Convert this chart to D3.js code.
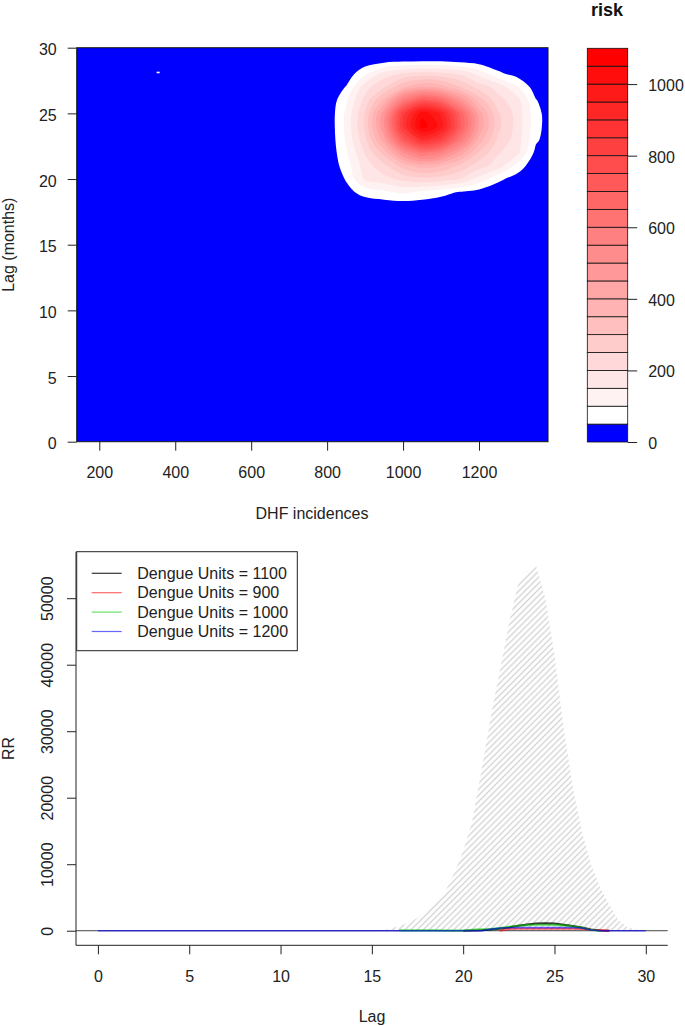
<!DOCTYPE html>
<html>
<head>
<meta charset="utf-8">
<script src="https://cdn.jsdelivr.net/npm/d3@7/dist/d3.min.js"></script>
<style>
body{margin:0;background:#fff;}
text{font-family:"Liberation Sans",Arial,sans-serif;font-size:16px;fill:#222;}
</style>
</head>
<body>
<svg id="chart" width="685" height="1026"></svg>
<script>
// 上图: risk 曲面 (DHF incidences x lag)
var riskDhf=[800,850,900,950,1000,1050,1100,1150,1200,1250,1300,1350,1400];
var riskLag=[17,18,19,20,21,22,23,24,25,26,27,28,29,30];
var riskGrid=[
    [0,7,4,3,4,3,2,1,0,0,0,0,0],
    [1,17,20,20,22,20,12,8,4,2,0,0,0],
    [2,34,68,90,110,90,70,45,28,11,4,0,0],
    [3,54,160,182,215,234,226,201,133,64,25,2,0],
    [5,75,176,234,321,374,350,286,220,177,84,9,1],
    [6,93,205,323,504,612,563,431,294,206,167,33,2],
    [7,106,238,429,718,892,815,602,382,241,177,60,5],
    [8,112,260,499,861,1079,982,715,440,264,183,70,6],
    [8,110,254,482,827,1034,941,688,426,258,182,69,6],
    [6,91,218,366,591,725,665,500,330,220,171,53,5],
    [3,53,180,245,344,403,377,304,229,181,108,21,2],
    [1,18,92,176,208,226,218,196,138,64,30,4,0],
    [0,2,17,30,40,45,44,31,19,7,4,0,0],
    [0,0,1,1,2,2,2,1,0,0,0,0,0]
];
var riskLevels=[0,50,100,150,200,250,300,350,400,450,500,550,600,650,700,750,800,850,900,950,1000,1050,1100];
var riskTicks=[0,200,400,600,800,1000];
var dhfTicks=[200,400,600,800,1000,1200];
var lagTicks=[0,5,10,15,20,25,30];
var riskSpecks=[[355,28.1]];

// 下图: RR 置信区间与各条曲线
var ciLag=[0,5,10,14,15,16,16.5,17,17.5,18,18.5,19,19.5,20,20.5,21,21.5,22,22.5,23,23.5,24,24.5,25,25.5,26,26.5,27,27.5,28,28.5,29,29.5,30];
var ciHigh=[0,0,0,10,50,250,730,1150,1900,3100,4400,5800,8600,12000,16500,24000,32000,39000,46000,52000,54000,54800,50000,41500,30500,21700,14900,10000,6500,3900,1600,500,200,50];
var ciLow=[0,0,0,0,0,0,0,0,0,0,0,0,0,0,0,0,0,0,0,0,0,0,0,0,0,0,0,0,0,0,0,0,0,0];
var rrTicks=[0,10000,20000,30000,40000,50000];

var lag1100=[20,21,22,22.5,23,23.5,24,24.5,25,25.5,26,26.5,27,27.5,28];
var rr1100=[0,80,300,500,750,950,1080,1120,1080,900,700,480,200,50,0];
var lag900=[22,22.5,23,24,25,26,26.5,27,27.5,28];
var rr900=[0,250,290,300,300,290,250,150,100,0];
var lag1000=[16.5,18.5,19,20,20.5,21,21.5,22,22.5,23,23.5,24,24.5,25,25.5,26,26.5,27,27.5];
var rr1000=[60,60,0,0,150,200,250,400,600,750,850,900,900,880,800,650,450,150,0];
var lag1200=[0,21,21.5,22,23,24,25,26,26.5,27,27.5,30];
var rr1200=[0,0,200,420,470,470,470,460,420,100,0,0];

var seriesNames=["Dengue Units = 1100","Dengue Units = 900","Dengue Units = 1000","Dengue Units = 1200"];
var seriesColors=["rgba(0,0,0,0.8)","rgba(255,0,0,0.6)","rgba(0,200,0,0.6)","rgba(0,0,255,0.6)"];

var svg=d3.select("#chart");
var defs=svg.append("defs");
var fmt=d3.format("d");

// 色阶: 第一档蓝色, 其余白到红
var riskColors=["#0000ff"];
for(var i=0;i<=20;i++){
    riskColors.push(d3.interpolateRgb("#ffffff","#ff0000")(i/20));
}

function tidyAxis(g){
    g.attr("font-size",null).attr("font-family",null).attr("color","#222");
    g.select(".domain").remove();
}

// ========== 上图 ==========
var x1=d3.scaleLinear().domain([140.5,1381.7]).range([76.7,548]);
var y1=d3.scaleLinear().domain([0,30]).range([441.7,47.7]);

defs.append("clipPath").attr("id","clipTop").append("rect")
    .attr("x",x1.range()[0]).attr("y",y1.range()[1])
    .attr("width",x1.range()[1]-x1.range()[0]).attr("height",y1.range()[0]-y1.range()[1]);

var topG=svg.append("g").attr("clip-path","url(#clipTop)");
topG.append("rect")
    .attr("x",x1.range()[0]).attr("y",y1.range()[1])
    .attr("width",x1.range()[1]-x1.range()[0]).attr("height",y1.range()[0]-y1.range()[1])
    .attr("fill",riskColors[0]);

//网格索引 -> 数据坐标
var gx=d3.scaleLinear().domain([0.5,riskDhf.length-0.5]).range([riskDhf[0],riskDhf[riskDhf.length-1]]);
var gy=d3.scaleLinear().domain([0.5,riskLag.length-0.5]).range([riskLag[0],riskLag[riskLag.length-1]]);
var flat=[];
riskGrid.forEach(function(row){row.forEach(function(v){flat.push(v);});});
var bands=d3.contours().size([riskDhf.length,riskLag.length]).thresholds(riskLevels.slice(1,-1))(flat);
var ring=d3.line().curve(d3.curveCatmullRomClosed.alpha(0.5));
bands.forEach(function(b){
    var d="";
    b.coordinates.forEach(function(poly){
        poly.forEach(function(r){
            var pts=r.slice(0,-1).map(function(p){return [x1(gx(p[0])),y1(gy(p[1]))];});
            if(pts.length>2){
                d+=ring(pts);
            }
        });
    });
    if(d){
        topG.append("path").attr("d",d).attr("fill-rule","evenodd")
            .attr("fill",riskColors[riskLevels.indexOf(b.value)]);
    }
});
topG.selectAll(".speck").data(riskSpecks).enter().append("rect")
    .attr("x",function(d){return x1(d[0])-1.5;}).attr("y",function(d){return y1(d[1])-1;})
    .attr("width",3).attr("height",1.6).attr("fill","#ffffff");

svg.append("rect")
    .attr("x",x1.range()[0]).attr("y",y1.range()[1])
    .attr("width",x1.range()[1]-x1.range()[0]).attr("height",y1.range()[0]-y1.range()[1])
    .attr("fill","none").attr("stroke","#111").attr("stroke-width",1);

svg.append("g").attr("transform","translate(0,"+y1.range()[0]+")")
    .call(d3.axisBottom(x1).tickValues(dhfTicks).tickFormat(fmt).tickSize(9).tickPadding(16))
    .call(tidyAxis);
svg.append("g").attr("transform","translate("+x1.range()[0]+",0)")
    .call(d3.axisLeft(y1).tickValues(lagTicks).tickFormat(fmt).tickSize(9).tickPadding(11))
    .call(tidyAxis)
    .selectAll("text").attr("dy","0.45em");

svg.append("text").attr("x",312).attr("y",519).attr("text-anchor","middle").text("DHF incidences");
svg.append("text").attr("transform","translate(13.5,244.7) rotate(-90)")
    .attr("text-anchor","middle").text("Lag (months)");

// 图例色条
var c1=d3.scaleLinear().domain([0,1100]).range([442,48.3]);
svg.selectAll(".bin").data(d3.range(riskLevels.length-1)).enter().append("rect")
    .attr("class","bin")
    .attr("x",587.3).attr("width",40.4)
    .attr("y",function(i){return c1(riskLevels[i+1]);})
    .attr("height",function(i){return c1(riskLevels[i])-c1(riskLevels[i+1]);})
    .attr("fill",function(i){return riskColors[i];})
    .attr("stroke","#111").attr("stroke-width",0.8);
svg.append("g").attr("transform","translate(627.7,0)")
    .call(d3.axisRight(c1).tickValues(riskTicks).tickFormat(fmt).tickSize(9.5).tickPadding(11))
    .call(tidyAxis)
    .selectAll("text").attr("dy","0.4em");
svg.append("text").attr("x",607).attr("y",16).attr("text-anchor","middle")
    .style("font-weight","bold").style("font-size","18px").style("fill","#111").text("risk");

// ========== 下图 ==========
var x2=d3.scaleLinear().domain([-1.2,31.2]).range([76,667.7]);
var y2=d3.scaleLinear().domain([-2192,56992]).range([945.3,551.7]);

var hatch=defs.append("pattern").attr("id","hatch").attr("patternUnits","userSpaceOnUse")
    .attr("width",4.3).attr("height",10).attr("patternTransform","rotate(45)");
hatch.append("line").attr("x1",2.15).attr("x2",2.15).attr("y1",0).attr("y2",10)
    .attr("stroke","#d2d2d2").attr("stroke-width",1.3);

var ciArea=d3.area()
    .x(function(d,i){return x2(ciLag[i]);})
    .y0(function(d,i){return y2(ciLow[i]);})
    .y1(function(d,i){return y2(ciHigh[i]);});
svg.append("path").attr("d",ciArea(ciLag)).attr("fill","url(#hatch)");

svg.append("line")
    .attr("x1",x2.range()[0]).attr("x2",x2.range()[1])
    .attr("y1",y2(0)).attr("y2",y2(0))
    .attr("stroke","#444").attr("stroke-width",1);

var seriesLag=[lag1100,lag900,lag1000,lag1200];
var seriesRR=[rr1100,rr900,rr1000,rr1200];
var seriesWidth=[2,2,2.2,1.6];
seriesLag.forEach(function(lags,k){
    var vals=seriesRR[k];
    var ln=d3.line()
        .x(function(d,i){return x2(lags[i]);})
        .y(function(d,i){return y2(vals[i]);});
    svg.append("path").attr("d",ln(lags)).attr("fill","none")
        .attr("stroke",seriesColors[k]).attr("stroke-width",seriesWidth[k]);
});

// 坐标框 (左 + 下)
svg.append("path")
    .attr("d","M"+x2.range()[0]+","+y2.range()[1]+"V"+y2.range()[0]+"H"+x2.range()[1])
    .attr("fill","none").attr("stroke","#222").attr("stroke-width",1);

svg.append("g").attr("transform","translate(0,"+y2.range()[0]+")")
    .call(d3.axisBottom(x2).tickValues(lagTicks).tickFormat(fmt).tickSize(9).tickPadding(16))
    .call(tidyAxis);
var yAx=svg.append("g").attr("transform","translate("+x2.range()[0]+",0)")
    .call(d3.axisLeft(y2).tickValues(rrTicks).tickFormat(fmt).tickSize(9))
    .call(tidyAxis);
yAx.selectAll("text")
    .attr("x",null).attr("dy",null)
    .attr("text-anchor","middle")
    .attr("transform","translate(-23.5,0) rotate(-90)");

svg.append("text").attr("x",372).attr("y",1022).attr("text-anchor","middle").text("Lag");
svg.append("text").attr("transform","translate(13.5,748.5) rotate(-90)")
    .attr("text-anchor","middle").text("RR");

// 图例
var lg=svg.append("g");
lg.append("rect").attr("x",76.7).attr("y",551.7).attr("width",220.6).attr("height",99)
    .attr("fill","#fff").attr("stroke","#222").attr("stroke-width",1);
seriesNames.forEach(function(name,k){
    var cy=573.3+k*19.4;
    lg.append("line").attr("x1",91.7).attr("x2",121.7).attr("y1",cy).attr("y2",cy)
        .attr("stroke",seriesColors[k]).attr("stroke-width",1.2);
    lg.append("text").attr("x",137.3).attr("y",cy+5.7).text(name);
});
</script>
</body>
</html>
